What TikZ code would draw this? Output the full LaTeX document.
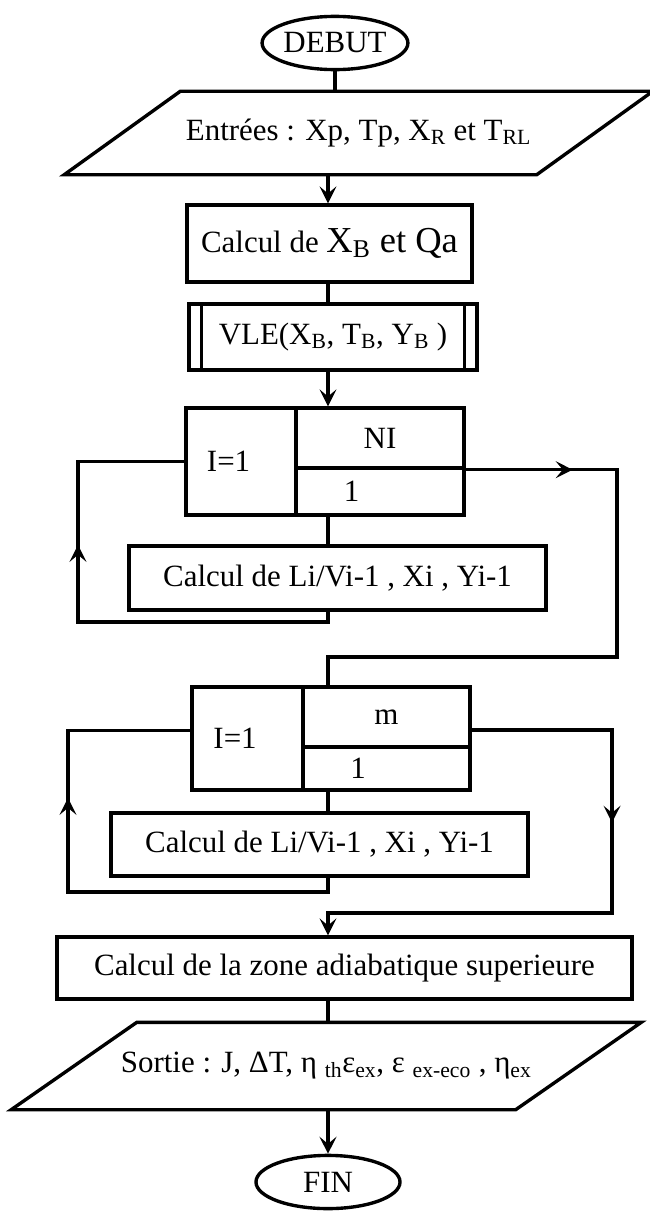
\documentclass[tikz,border=0pt]{standalone}
\usepackage{fontspec}
\setmainfont{Liberation Serif}
\usetikzlibrary{arrows.meta,shapes.geometric,decorations.markings}
\tikzset{>={Stealth[length=12pt,width=12pt,inset=5pt]},
  every node/.style={font=\fontsize{22}{26}\selectfont,inner sep=0pt},
  box/.style={draw,rectangle},
  term/.style={draw,ellipse,minimum width=3.6cm,minimum height=1.33cm},
  io/.style={rectangle,minimum height=2cm},
  gauche/.style={text width=1.7cm,align=left},
  bas/.style={text width=1.8cm,align=left},
  midarrow/.style={postaction={decorate},decoration={markings,mark=at position #1 with {\arrow{>}}}}}
\begin{document}
\begin{tikzpicture}[x=.025cm,y=-.025cm,line width=2.4pt]
\useasboundingbox(0,0)rectangle(650,1211);
\coordinate(axe)at(328,0);
\node[term](debut)at(335,43){DEBUT};
\node[io,minimum width=11.725cm](entrees)at(358.5,133){Entrées : Xp, Tp, X\textsubscript{R} et T\textsubscript{RL}};
\draw([xshift=1.45cm]entrees.north west)--([xshift=1.45cm]entrees.north east)--([xshift=-1.45cm]entrees.south east)--([xshift=-1.45cm]entrees.south west)--cycle;
\node[box,minimum width=7.125cm,minimum height=1.925cm](calcxb)at(329.5,243.5){Calcul de {\fontsize{26}{30}\selectfont X\textsubscript{B} et Qa}};
\node[box,minimum width=7.2cm,minimum height=1.65cm](vle)at(333,337){VLE(X\textsubscript{B}, T\textsubscript{B}, Y\textsubscript{B} )};
\draw([xshift=.36cm]vle.north west)--([xshift=.36cm]vle.south west)([xshift=-.36cm]vle.north east)--([xshift=-.36cm]vle.south east);
\node[box,gauche,minimum width=2.75cm,minimum height=2.675cm](init1)at(241,461.5){I=1};
\node[box,minimum width=4.2cm,minimum height=1.5cm](max1)at(380,438){NI};
\node[box,bas,minimum width=4.2cm,minimum height=1.175cm](min1)at(380,491.5){1};
\node[box,minimum width=10.425cm,minimum height=1.6cm](calcli1)at(337.5,578){Calcul de Li/Vi-1 , Xi , Yi-1};
\node[box,gauche,minimum width=2.775cm,minimum height=2.575cm](init2)at(247.5,738.5){I=1};
\node[box,minimum width=4.175cm,minimum height=1.5cm](max2)at(386.5,717){m};
\node[box,bas,minimum width=4.175cm,minimum height=1.075cm](min2)at(386.5,768.5){1};
\node[box,minimum width=10.425cm,minimum height=1.575cm](calcli2)at(319.5,844.5){Calcul de Li/Vi-1 , Xi , Yi-1};
\node[box,minimum width=14.375cm,minimum height=1.55cm](adiab)at(344.5,968){Calcul de la zone adiabatique superieure};
\node[io,minimum width=12.525cm,minimum height=2.1cm](sortie)at(326.25,1066){Sortie : J, ΔT, η \textsubscript{th}ε\textsubscript{ex}, ε \textsubscript{ex-eco} , η\textsubscript{ex}};
\draw([xshift=1.57cm]sortie.north west)--([xshift=1.57cm]sortie.north east)--([xshift=-1.57cm]sortie.south east)--([xshift=-1.57cm]sortie.south west)--cycle;
\node[term](fin)at(328,1182){FIN};
\coordinate(g1)at(78,622);\coordinate(d1)at(617,657);
\coordinate(g2)at(68,892);\coordinate(d2)at(612,913);
\draw(debut)--(debut|-entrees.north);
\draw[->](axe|-entrees.south)--(axe|-calcxb.north);
\draw(axe|-calcxb.south)--(axe|-vle.north);
\draw[->](axe|-vle.south)--(axe|-max1.north);
\draw(axe|-min1.south)--(axe|-calcli1.north);
\draw[midarrow=.64](axe|-calcli1.south)|-(g1)|-(init1.west);
\draw[midarrow=.163](max1.south east)-|(d1)-|(axe|-max2.north);
\draw(axe|-min2.south)--(axe|-calcli2.north);
\draw[midarrow=.66](axe|-calcli2.south)|-(g2)|-([yshift=.2cm]init2.west);
\draw[->,midarrow=.37]([yshift=-.325cm]max2.east)-|(d2)-|(axe|-adiab.north);
\draw(axe|-adiab.south)--(axe|-sortie.north);
\draw[->](axe|-sortie.south)--(fin);
\end{tikzpicture}
\end{document}
